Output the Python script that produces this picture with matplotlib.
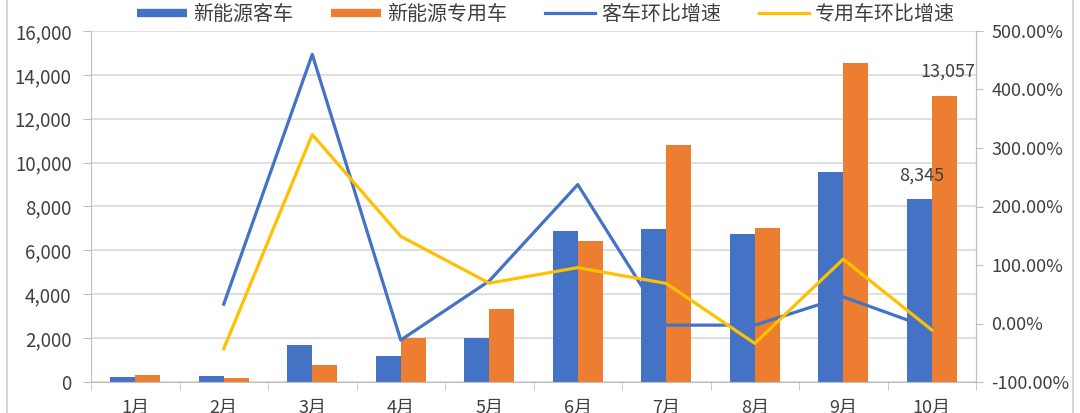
import numpy as np
import matplotlib.pyplot as plt
from matplotlib.lines import Line2D
from matplotlib.patches import Rectangle
from matplotlib.ticker import FuncFormatter, MultipleLocator

plt.rcParams['font.family'] = ['Noto Sans CJK SC', 'DejaVu Sans']

months = ['1月', '2月', '3月', '4月', '5月', '6月', '7月', '8月', '9月', '10月']
# 新能源客车 / 新能源专用车 销量
bus = [228, 274, 1673, 1180, 1986, 6864, 6985, 6745, 9570, 8345]
special = [319, 198, 760, 1986, 3318, 6440, 10800, 7016, 14560, 13057]
# 环比增速 (%)
bus_mom = [np.nan, 33, 460, -28.4, 72.7, 237.5, -2.8, -2.8, 45.5, -9]
special_mom = [np.nan, -43, 323, 149, 69, 95.5, 68.5, -34, 110, -11]

c_blue = '#4472C4'
c_orange = '#ED7D31'
c_yellow = '#FFC000'
c_text = '#404040'
c_axis = '#BFBFBF'

fig = plt.figure(figsize=(10.8, 4.13), dpi=100)
fig.patches.append(Rectangle((7 / 1080, -0.1), 1066 / 1080, 1.105, transform=fig.transFigure,
                             fill=False, edgecolor='#D0D0D0', lw=1.2))

ax = fig.add_axes([91 / 1080, 31 / 413, 885 / 1080, 351 / 413])
x = np.arange(len(months))
w = 0.28
ax.bar(x - w / 2, bus, w, color=c_blue, zorder=2)
ax.bar(x + w / 2, special, w, color=c_orange, zorder=2)

ax.set_xlim(-0.5, len(months) - 0.5)
ax.set_ylim(0, 16000)
ax.yaxis.set_major_locator(MultipleLocator(2000))
ax.yaxis.set_major_formatter(FuncFormatter(lambda v, p: f'{v:,.0f}'))
ax.grid(axis='y', color='#D9D9D9', lw=1.2, zorder=0)
ax.set_axisbelow(True)

ax.set_xticks(x)
ax.set_xticklabels(months)
ax.set_xticks(np.arange(-0.5, len(months), 1), minor=True)
ax.tick_params(axis='x', which='major', length=0, pad=12, labelsize=13, labelcolor=c_text)
ax.tick_params(axis='x', which='minor', length=6, color=c_axis)
ax.tick_params(axis='y', length=6, color=c_axis, pad=8, labelsize=13.5, labelcolor=c_text)

for s in ['left', 'bottom', 'right']:
    ax.spines[s].set_color(c_axis)
ax.spines['top'].set_visible(False)

ax.annotate(f'{bus[-1]:,}', (x[-1] - w / 2, bus[-1]), xytext=(2, 17), textcoords='offset points',
            ha='center', va='center', fontsize=13, color=c_text)
ax.annotate(f'{special[-1]:,}', (x[-1] + w / 2, special[-1]), xytext=(3, 17), textcoords='offset points',
            ha='center', va='center', fontsize=13, color=c_text)

ax2 = ax.twinx()
ax2.plot(x, bus_mom, color=c_blue, lw=2.3)
ax2.plot(x, special_mom, color=c_yellow, lw=2.3)
ax2.set_ylim(-100, 500)
ax2.yaxis.set_major_locator(MultipleLocator(100))
ax2.yaxis.set_major_formatter(FuncFormatter(lambda v, p: f'{v:.2f}%'))
ax2.tick_params(axis='y', length=5, color=c_axis, pad=6, labelsize=13, labelcolor=c_text)
for s in ax2.spines.values():
    s.set_visible(False)
ax2.spines['right'].set_visible(True)
ax2.spines['right'].set_color(c_axis)

handles = [
    Line2D([0], [0], color=c_blue, lw=6, solid_capstyle='butt'),
    Line2D([0], [0], color=c_orange, lw=6, solid_capstyle='butt'),
    Line2D([0], [0], color=c_blue, lw=2.3),
    Line2D([0], [0], color=c_yellow, lw=2.3),
]
labels = ['新能源客车', '新能源专用车', '客车环比增速', '专用车环比增速']
fig.legend(handles, labels, loc='center', bbox_to_anchor=(0.5056, 0.964), ncol=4, frameon=False,
           fontsize=14.4, labelcolor=c_text, handlelength=2.5, handletextpad=0.3, columnspacing=1.9)

fig.savefig('out.png', dpi=100)
